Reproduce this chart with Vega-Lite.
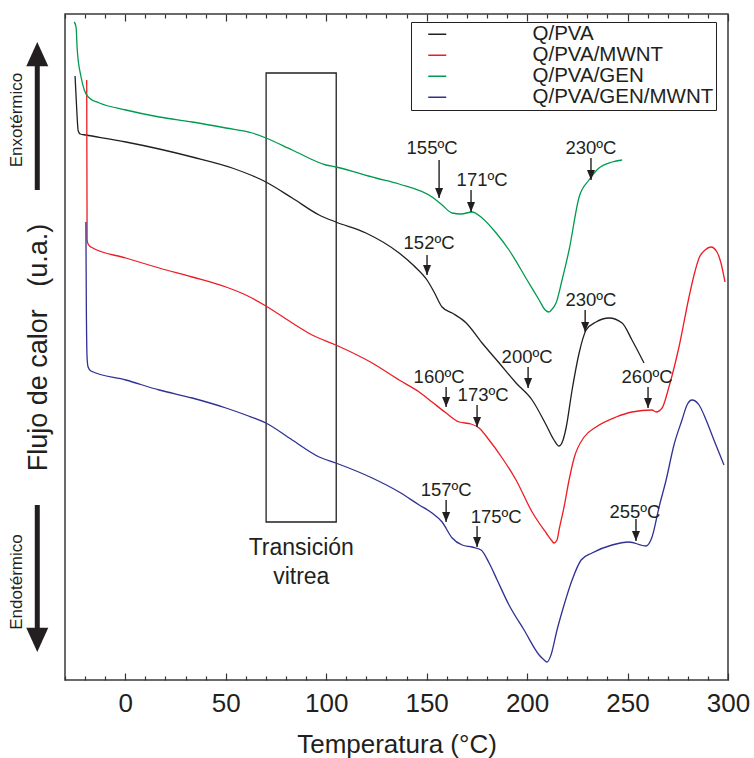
{
  "$schema": "https://vega.github.io/schema/vega-lite/v6.json",
  "width": 663,
  "height": 666,
  "autosize": {"type": "none"},
  "padding": {"left": 65, "top": 14, "right": 26, "bottom": 78},
  "config": {
    "font": "Liberation Sans",
    "view": {"stroke": "#3a3a3a", "strokeWidth": 1.5},
    "axis": {"grid": false, "domain": false, "tickColor": "#333333", "tickWidth": 1.2, "labelColor": "#231f20", "titleColor": "#231f20", "titleFontWeight": "normal"}
  },
  "datasets": {
    "curves": [
      {"serie": "Q/PVA", "T": -25.0, "flujo": 604}, {"serie": "Q/PVA", "T": -24.4, "flujo": 580}, {"serie": "Q/PVA", "T": -23.4, "flujo": 549}, {"serie": "Q/PVA", "T": -22.4, "flujo": 546}, {"serie": "Q/PVA", "T": -19.6, "flujo": 545}, {"serie": "Q/PVA", "T": 0.3, "flujo": 538}, {"serie": "Q/PVA", "T": 16.9, "flujo": 531}, {"serie": "Q/PVA", "T": 33.3, "flujo": 523}, {"serie": "Q/PVA", "T": 53.2, "flujo": 512}, {"serie": "Q/PVA", "T": 70.0, "flujo": 498}, {"serie": "Q/PVA", "T": 83.1, "flujo": 482}, {"serie": "Q/PVA", "T": 96.5, "flujo": 465}, {"serie": "Q/PVA", "T": 104.8, "flujo": 458}, {"serie": "Q/PVA", "T": 119.8, "flujo": 447}, {"serie": "Q/PVA", "T": 136.3, "flujo": 427}, {"serie": "Q/PVA", "T": 143.8, "flujo": 414}, {"serie": "Q/PVA", "T": 150.2, "flujo": 400}, {"serie": "Q/PVA", "T": 153.7, "flujo": 388}, {"serie": "Q/PVA", "T": 157.7, "flujo": 373}, {"serie": "Q/PVA", "T": 162.7, "flujo": 367}, {"serie": "Q/PVA", "T": 169.7, "flujo": 357}, {"serie": "Q/PVA", "T": 177.6, "flujo": 337}, {"serie": "Q/PVA", "T": 186.1, "flujo": 317}, {"serie": "Q/PVA", "T": 194.5, "flujo": 297}, {"serie": "Q/PVA", "T": 202.5, "flujo": 280}, {"serie": "Q/PVA", "T": 209.5, "flujo": 255}, {"serie": "Q/PVA", "T": 213.4, "flujo": 240}, {"serie": "Q/PVA", "T": 215.9, "flujo": 234}, {"serie": "Q/PVA", "T": 217.9, "flujo": 240}, {"serie": "Q/PVA", "T": 219.4, "flujo": 252}, {"serie": "Q/PVA", "T": 222.4, "flujo": 290}, {"serie": "Q/PVA", "T": 225.9, "flujo": 327}, {"serie": "Q/PVA", "T": 229.4, "flujo": 350}, {"serie": "Q/PVA", "T": 234.3, "flujo": 358}, {"serie": "Q/PVA", "T": 240.8, "flujo": 362}, {"serie": "Q/PVA", "T": 247.3, "flujo": 357}, {"serie": "Q/PVA", "T": 252.2, "flujo": 340}, {"serie": "Q/PVA", "T": 258.2, "flujo": 317},
      {"serie": "Q/PVA/MWNT", "T": -19.2, "flujo": 600}, {"serie": "Q/PVA/MWNT", "T": -19.1, "flujo": 520}, {"serie": "Q/PVA/MWNT", "T": -19.0, "flujo": 440}, {"serie": "Q/PVA/MWNT", "T": -18.5, "flujo": 436}, {"serie": "Q/PVA/MWNT", "T": -17.1, "flujo": 433}, {"serie": "Q/PVA/MWNT", "T": 0.3, "flujo": 422}, {"serie": "Q/PVA/MWNT", "T": 16.9, "flujo": 412}, {"serie": "Q/PVA/MWNT", "T": 33.3, "flujo": 403}, {"serie": "Q/PVA/MWNT", "T": 50.1, "flujo": 393}, {"serie": "Q/PVA/MWNT", "T": 60.0, "flujo": 385}, {"serie": "Q/PVA/MWNT", "T": 70.0, "flujo": 374}, {"serie": "Q/PVA/MWNT", "T": 83.1, "flujo": 357}, {"serie": "Q/PVA/MWNT", "T": 93.0, "flujo": 345}, {"serie": "Q/PVA/MWNT", "T": 104.8, "flujo": 335}, {"serie": "Q/PVA/MWNT", "T": 122.9, "flujo": 317}, {"serie": "Q/PVA/MWNT", "T": 136.3, "flujo": 300}, {"serie": "Q/PVA/MWNT", "T": 146.3, "flujo": 288}, {"serie": "Q/PVA/MWNT", "T": 152.7, "flujo": 278}, {"serie": "Q/PVA/MWNT", "T": 159.7, "flujo": 267}, {"serie": "Q/PVA/MWNT", "T": 166.2, "flujo": 258}, {"serie": "Q/PVA/MWNT", "T": 172.1, "flujo": 256}, {"serie": "Q/PVA/MWNT", "T": 176.1, "flujo": 252}, {"serie": "Q/PVA/MWNT", "T": 181.1, "flujo": 240}, {"serie": "Q/PVA/MWNT", "T": 187.6, "flujo": 222}, {"serie": "Q/PVA/MWNT", "T": 194.5, "flujo": 200}, {"serie": "Q/PVA/MWNT", "T": 202.5, "flujo": 168}, {"serie": "Q/PVA/MWNT", "T": 209.5, "flujo": 147}, {"serie": "Q/PVA/MWNT", "T": 212.4, "flujo": 139}, {"serie": "Q/PVA/MWNT", "T": 213.4, "flujo": 137}, {"serie": "Q/PVA/MWNT", "T": 214.9, "flujo": 140}, {"serie": "Q/PVA/MWNT", "T": 215.9, "flujo": 150}, {"serie": "Q/PVA/MWNT", "T": 218.4, "flujo": 173}, {"serie": "Q/PVA/MWNT", "T": 220.9, "flujo": 200}, {"serie": "Q/PVA/MWNT", "T": 223.4, "flujo": 222}, {"serie": "Q/PVA/MWNT", "T": 228.4, "flujo": 243}, {"serie": "Q/PVA/MWNT", "T": 234.3, "flujo": 253}, {"serie": "Q/PVA/MWNT", "T": 244.3, "flujo": 263}, {"serie": "Q/PVA/MWNT", "T": 252.2, "flujo": 268}, {"serie": "Q/PVA/MWNT", "T": 262.2, "flujo": 270}, {"serie": "Q/PVA/MWNT", "T": 264.2, "flujo": 268}, {"serie": "Q/PVA/MWNT", "T": 267.2, "flujo": 272}, {"serie": "Q/PVA/MWNT", "T": 270.6, "flujo": 293}, {"serie": "Q/PVA/MWNT", "T": 275.6, "flujo": 333}, {"serie": "Q/PVA/MWNT", "T": 280.6, "flujo": 383}, {"serie": "Q/PVA/MWNT", "T": 283.1, "flujo": 405}, {"serie": "Q/PVA/MWNT", "T": 285.6, "flujo": 422}, {"serie": "Q/PVA/MWNT", "T": 288.6, "flujo": 430}, {"serie": "Q/PVA/MWNT", "T": 291.5, "flujo": 433}, {"serie": "Q/PVA/MWNT", "T": 294.5, "flujo": 428}, {"serie": "Q/PVA/MWNT", "T": 296.5, "flujo": 417}, {"serie": "Q/PVA/MWNT", "T": 298.5, "flujo": 398},
      {"serie": "Q/PVA/GEN", "T": -25.4, "flujo": 658}, {"serie": "Q/PVA/GEN", "T": -24.5, "flujo": 653}, {"serie": "Q/PVA/GEN", "T": -23.9, "flujo": 630}, {"serie": "Q/PVA/GEN", "T": -22.0, "flujo": 603}, {"serie": "Q/PVA/GEN", "T": -20.4, "flujo": 590}, {"serie": "Q/PVA/GEN", "T": -17.9, "flujo": 582}, {"serie": "Q/PVA/GEN", "T": -12.9, "flujo": 577}, {"serie": "Q/PVA/GEN", "T": 0.3, "flujo": 570}, {"serie": "Q/PVA/GEN", "T": 16.9, "flujo": 563}, {"serie": "Q/PVA/GEN", "T": 33.3, "flujo": 558}, {"serie": "Q/PVA/GEN", "T": 50.1, "flujo": 552}, {"serie": "Q/PVA/GEN", "T": 63.2, "flujo": 547}, {"serie": "Q/PVA/GEN", "T": 70.0, "flujo": 542}, {"serie": "Q/PVA/GEN", "T": 83.1, "flujo": 530}, {"serie": "Q/PVA/GEN", "T": 99.9, "flujo": 515}, {"serie": "Q/PVA/GEN", "T": 104.8, "flujo": 513}, {"serie": "Q/PVA/GEN", "T": 124.7, "flujo": 502}, {"serie": "Q/PVA/GEN", "T": 136.3, "flujo": 496}, {"serie": "Q/PVA/GEN", "T": 152.7, "flujo": 483}, {"serie": "Q/PVA/GEN", "T": 157.7, "flujo": 475}, {"serie": "Q/PVA/GEN", "T": 162.7, "flujo": 467}, {"serie": "Q/PVA/GEN", "T": 167.2, "flujo": 466}, {"serie": "Q/PVA/GEN", "T": 172.6, "flujo": 468}, {"serie": "Q/PVA/GEN", "T": 177.6, "flujo": 462}, {"serie": "Q/PVA/GEN", "T": 184.6, "flujo": 447}, {"serie": "Q/PVA/GEN", "T": 191.0, "flujo": 430}, {"serie": "Q/PVA/GEN", "T": 200.0, "flujo": 400}, {"serie": "Q/PVA/GEN", "T": 206.0, "flujo": 380}, {"serie": "Q/PVA/GEN", "T": 209.0, "flujo": 370}, {"serie": "Q/PVA/GEN", "T": 210.9, "flujo": 368}, {"serie": "Q/PVA/GEN", "T": 212.9, "flujo": 372}, {"serie": "Q/PVA/GEN", "T": 214.4, "flujo": 377}, {"serie": "Q/PVA/GEN", "T": 217.4, "flujo": 400}, {"serie": "Q/PVA/GEN", "T": 220.9, "flujo": 430}, {"serie": "Q/PVA/GEN", "T": 225.9, "flujo": 483}, {"serie": "Q/PVA/GEN", "T": 230.8, "flujo": 500}, {"serie": "Q/PVA/GEN", "T": 235.8, "flujo": 512}, {"serie": "Q/PVA/GEN", "T": 242.3, "flujo": 518}, {"serie": "Q/PVA/GEN", "T": 247.3, "flujo": 520},
      {"serie": "Q/PVA/GEN/MWNT", "T": -19.6, "flujo": 458}, {"serie": "Q/PVA/GEN/MWNT", "T": -19.4, "flujo": 380}, {"serie": "Q/PVA/GEN/MWNT", "T": -19.0, "flujo": 322}, {"serie": "Q/PVA/GEN/MWNT", "T": -18.5, "flujo": 313}, {"serie": "Q/PVA/GEN/MWNT", "T": -17.1, "flujo": 309}, {"serie": "Q/PVA/GEN/MWNT", "T": 0.3, "flujo": 300}, {"serie": "Q/PVA/GEN/MWNT", "T": 16.9, "flujo": 290}, {"serie": "Q/PVA/GEN/MWNT", "T": 33.3, "flujo": 282}, {"serie": "Q/PVA/GEN/MWNT", "T": 50.1, "flujo": 272}, {"serie": "Q/PVA/GEN/MWNT", "T": 60.0, "flujo": 265}, {"serie": "Q/PVA/GEN/MWNT", "T": 70.0, "flujo": 257}, {"serie": "Q/PVA/GEN/MWNT", "T": 83.1, "flujo": 240}, {"serie": "Q/PVA/GEN/MWNT", "T": 96.5, "flujo": 223}, {"serie": "Q/PVA/GEN/MWNT", "T": 104.8, "flujo": 217}, {"serie": "Q/PVA/GEN/MWNT", "T": 122.9, "flujo": 202}, {"serie": "Q/PVA/GEN/MWNT", "T": 136.3, "flujo": 188}, {"serie": "Q/PVA/GEN/MWNT", "T": 146.3, "flujo": 175}, {"serie": "Q/PVA/GEN/MWNT", "T": 152.7, "flujo": 167}, {"serie": "Q/PVA/GEN/MWNT", "T": 157.7, "flujo": 158}, {"serie": "Q/PVA/GEN/MWNT", "T": 162.7, "flujo": 142}, {"serie": "Q/PVA/GEN/MWNT", "T": 167.7, "flujo": 135}, {"serie": "Q/PVA/GEN/MWNT", "T": 172.6, "flujo": 133}, {"serie": "Q/PVA/GEN/MWNT", "T": 177.1, "flujo": 130}, {"serie": "Q/PVA/GEN/MWNT", "T": 181.1, "flujo": 117}, {"serie": "Q/PVA/GEN/MWNT", "T": 185.1, "flujo": 100}, {"serie": "Q/PVA/GEN/MWNT", "T": 191.0, "flujo": 75}, {"serie": "Q/PVA/GEN/MWNT", "T": 198.5, "flujo": 50}, {"serie": "Q/PVA/GEN/MWNT", "T": 206.0, "flujo": 25}, {"serie": "Q/PVA/GEN/MWNT", "T": 208.5, "flujo": 20}, {"serie": "Q/PVA/GEN/MWNT", "T": 210.0, "flujo": 18}, {"serie": "Q/PVA/GEN/MWNT", "T": 211.9, "flujo": 25}, {"serie": "Q/PVA/GEN/MWNT", "T": 214.9, "flujo": 50}, {"serie": "Q/PVA/GEN/MWNT", "T": 218.4, "flujo": 75}, {"serie": "Q/PVA/GEN/MWNT", "T": 222.4, "flujo": 100}, {"serie": "Q/PVA/GEN/MWNT", "T": 226.9, "flujo": 120}, {"serie": "Q/PVA/GEN/MWNT", "T": 232.3, "flujo": 127}, {"serie": "Q/PVA/GEN/MWNT", "T": 242.3, "flujo": 135}, {"serie": "Q/PVA/GEN/MWNT", "T": 250.7, "flujo": 138}, {"serie": "Q/PVA/GEN/MWNT", "T": 259.2, "flujo": 134}, {"serie": "Q/PVA/GEN/MWNT", "T": 262.2, "flujo": 143}, {"serie": "Q/PVA/GEN/MWNT", "T": 265.7, "flujo": 173}, {"serie": "Q/PVA/GEN/MWNT", "T": 269.2, "flujo": 200}, {"serie": "Q/PVA/GEN/MWNT", "T": 273.1, "flujo": 235}, {"serie": "Q/PVA/GEN/MWNT", "T": 277.1, "flujo": 260}, {"serie": "Q/PVA/GEN/MWNT", "T": 279.6, "flujo": 275}, {"serie": "Q/PVA/GEN/MWNT", "T": 282.1, "flujo": 280}, {"serie": "Q/PVA/GEN/MWNT", "T": 285.6, "flujo": 275}, {"serie": "Q/PVA/GEN/MWNT", "T": 289.1, "flujo": 260}, {"serie": "Q/PVA/GEN/MWNT", "T": 293.0, "flujo": 240}, {"serie": "Q/PVA/GEN/MWNT", "T": 298.0, "flujo": 215}
    ],
    "notes": [
      {"label": "155ºC", "tx": 152.7, "ty": 532, "ax": 156.2, "top": 520, "tip": 482},
      {"label": "171ºC", "tx": 177.6, "ty": 500, "ax": 172.1, "top": 490, "tip": 468},
      {"label": "230ºC", "tx": 231.8, "ty": 532, "ax": 231.8, "top": 522, "tip": 500},
      {"label": "152ºC", "tx": 151.2, "ty": 437, "ax": 150.2, "top": 425, "tip": 405},
      {"label": "230ºC", "tx": 231.8, "ty": 380, "ax": 228.9, "top": 370, "tip": 348},
      {"label": "200ºC", "tx": 200.0, "ty": 323, "ax": 200.5, "top": 313, "tip": 292},
      {"label": "160ºC", "tx": 156.2, "ty": 303, "ax": 159.7, "top": 293, "tip": 273},
      {"label": "173ºC", "tx": 178.1, "ty": 285, "ax": 175.1, "top": 275, "tip": 253},
      {"label": "260ºC", "tx": 259.7, "ty": 303, "ax": 260.2, "top": 293, "tip": 272},
      {"label": "157ºC", "tx": 159.7, "ty": 190, "ax": 159.7, "top": 180, "tip": 158},
      {"label": "175ºC", "tx": 184.6, "ty": 163, "ax": 175.1, "top": 154, "tip": 133},
      {"label": "255ºC", "tx": 253.7, "ty": 168, "ax": 254.2, "top": 161, "tip": 139}
    ],
    "box": [{"x": 70.1, "x2": 105.0, "y": 158, "y2": 607}],
    "boxtext": [{"label": "Transición", "x": 87.6, "y": 132}, {"label": "vitrea", "x": 87.6, "y": 103}],
    "side": [
      {"dir": "up", "x": -43.8, "y": 490, "y2": 620, "tip": 638},
      {"dir": "down", "x": -43.8, "y": 175, "y2": 46, "tip": 28}
    ],
    "sidetext": [{"label": "Enxotérmico", "x": -53.7, "y": 560}, {"label": "Endotérmico", "x": -53.7, "y": 98}]
  },
  "layer": [
    {
      "data": {"name": "box"},
      "mark": {"type": "rect", "filled": false, "stroke": "#231f20", "strokeWidth": 1.3},
      "encoding": {
        "x": {"field": "x", "type": "quantitative", "scale": {"domain": [-30, 300], "nice": false, "zero": false},
          "axis": {"orient": "top", "values": [-30, -20, -10, 0, 10, 20, 30, 40, 50, 60, 70, 80, 90, 100, 110, 120, 130, 140, 150, 160, 170, 180, 190, 200, 210, 220, 230, 240, 250, 260, 270, 280, 290, 300], "labels": false, "title": null, "tickSize": {"condition": {"test": "datum.value % 50 === 0", "value": -7}, "value": -4}}},
        "x2": {"field": "x2"},
        "y": {"field": "y", "type": "quantitative", "scale": {"domain": [0, 666], "nice": false, "zero": false}, "axis": null},
        "y2": {"field": "y2"}
      }
    },
    {
      "data": {"name": "curves"},
      "mark": {"type": "line", "interpolate": "monotone", "strokeWidth": 1.3},
      "encoding": {
        "x": {"field": "T", "type": "quantitative", "scale": {"domain": [-30, 300], "nice": false, "zero": false},
          "axis": {"orient": "bottom", "values": [-30, -20, -10, 0, 10, 20, 30, 40, 50, 60, 70, 80, 90, 100, 110, 120, 130, 140, 150, 160, 170, 180, 190, 200, 210, 220, 230, 240, 250, 260, 270, 280, 290, 300], "labelExpr": "datum.value % 50 === 0 && datum.value >= 0 ? datum.label : ''", "labelFontSize": 26, "labelPadding": 17, "labelFlush": false, "labelOverlap": false, "title": "Temperatura (°C)", "titleFontSize": 26, "titlePadding": 12, "tickSize": {"condition": {"test": "datum.value % 50 === 0", "value": -7}, "value": -4}}},
        "y": {"field": "flujo", "type": "quantitative", "scale": {"domain": [0, 666], "nice": false, "zero": false},
          "axis": {"title": "Flujo de calor\u00a0\u00a0\u00a0(u.a.)", "titleFontSize": 27, "titlePadding": 13, "labels": false, "ticks": false, "domain": false}},
        "color": {"field": "serie", "type": "nominal",
          "scale": {"domain": ["Q/PVA", "Q/PVA/MWNT", "Q/PVA/GEN", "Q/PVA/GEN/MWNT"], "range": ["#231f20", "#ed1c24", "#009a4e", "#2e3192"]},
          "legend": {"orient": "none", "legendX": 346, "legendY": 8, "title": null, "symbolType": "stroke", "symbolStrokeWidth": 1.5, "symbolSize": 324, "symbolOffset": 14, "labelFontSize": 20.5, "labelOffset": 85, "labelLimit": 400, "labelColor": "#231f20", "padding": 2, "rowPadding": -0.5, "strokeColor": "#231f20", "fillColor": "white"}}
      }
    },
    {
      "data": {"name": "notes"},
      "mark": {"type": "rule", "color": "#231f20", "strokeWidth": 1.4},
      "encoding": {
        "x": {"field": "ax", "type": "quantitative", "scale": {"domain": [-30, 300], "nice": false, "zero": false}, "axis": null},
        "y": {"field": "top", "type": "quantitative", "scale": {"domain": [0, 666], "nice": false, "zero": false}, "axis": null},
        "y2": {"field": "tip"}
      }
    },
    {
      "data": {"name": "notes"},
      "mark": {"type": "point", "shape": "M-1,-2.5L1,-2.5L0,0Z", "filled": true, "color": "#231f20", "size": 64, "opacity": 1, "strokeWidth": 0},
      "encoding": {
        "x": {"field": "ax", "type": "quantitative", "scale": {"domain": [-30, 300], "nice": false, "zero": false}, "axis": null},
        "y": {"field": "tip", "type": "quantitative", "scale": {"domain": [0, 666], "nice": false, "zero": false}, "axis": null}
      }
    },
    {
      "data": {"name": "notes"},
      "mark": {"type": "text", "fontSize": 18.5, "color": "#231f20", "align": "center", "baseline": "middle"},
      "encoding": {
        "x": {"field": "tx", "type": "quantitative", "scale": {"domain": [-30, 300], "nice": false, "zero": false}, "axis": null},
        "y": {"field": "ty", "type": "quantitative", "scale": {"domain": [0, 666], "nice": false, "zero": false}, "axis": null},
        "text": {"field": "label"}
      }
    },
    {
      "data": {"name": "boxtext"},
      "mark": {"type": "text", "fontSize": 23, "color": "#231f20", "align": "center", "baseline": "middle"},
      "encoding": {
        "x": {"field": "x", "type": "quantitative", "scale": {"domain": [-30, 300], "nice": false, "zero": false}, "axis": null},
        "y": {"field": "y", "type": "quantitative", "scale": {"domain": [0, 666], "nice": false, "zero": false}, "axis": null},
        "text": {"field": "label"}
      }
    },
    {
      "data": {"name": "side"},
      "mark": {"type": "rule", "color": "#231f20", "strokeWidth": 5},
      "encoding": {
        "x": {"field": "x", "type": "quantitative", "scale": {"domain": [-30, 300], "nice": false, "zero": false}, "axis": null},
        "y": {"field": "y", "type": "quantitative", "scale": {"domain": [0, 666], "nice": false, "zero": false}, "axis": null},
        "y2": {"field": "y2"}
      }
    },
    {
      "data": {"name": "side"},
      "mark": {"type": "point", "filled": true, "color": "#231f20", "size": 484, "opacity": 1, "strokeWidth": 0},
      "encoding": {
        "x": {"field": "x", "type": "quantitative", "scale": {"domain": [-30, 300], "nice": false, "zero": false}, "axis": null},
        "y": {"field": "tip", "type": "quantitative", "scale": {"domain": [0, 666], "nice": false, "zero": false}, "axis": null},
        "shape": {"field": "dir", "type": "nominal", "scale": {"domain": ["up", "down"], "range": ["M-1,2.2L1,2.2L0,0Z", "M-1,-2.2L1,-2.2L0,0Z"]}, "legend": null}
      }
    },
    {
      "data": {"name": "sidetext"},
      "mark": {"type": "text", "fontSize": 17, "color": "#231f20", "align": "center", "baseline": "middle", "angle": 270},
      "encoding": {
        "x": {"field": "x", "type": "quantitative", "scale": {"domain": [-30, 300], "nice": false, "zero": false}, "axis": null},
        "y": {"field": "y", "type": "quantitative", "scale": {"domain": [0, 666], "nice": false, "zero": false}, "axis": null},
        "text": {"field": "label"}
      }
    }
  ],
  "resolve": {"axis": {"x": "independent", "y": "independent"}}
}
